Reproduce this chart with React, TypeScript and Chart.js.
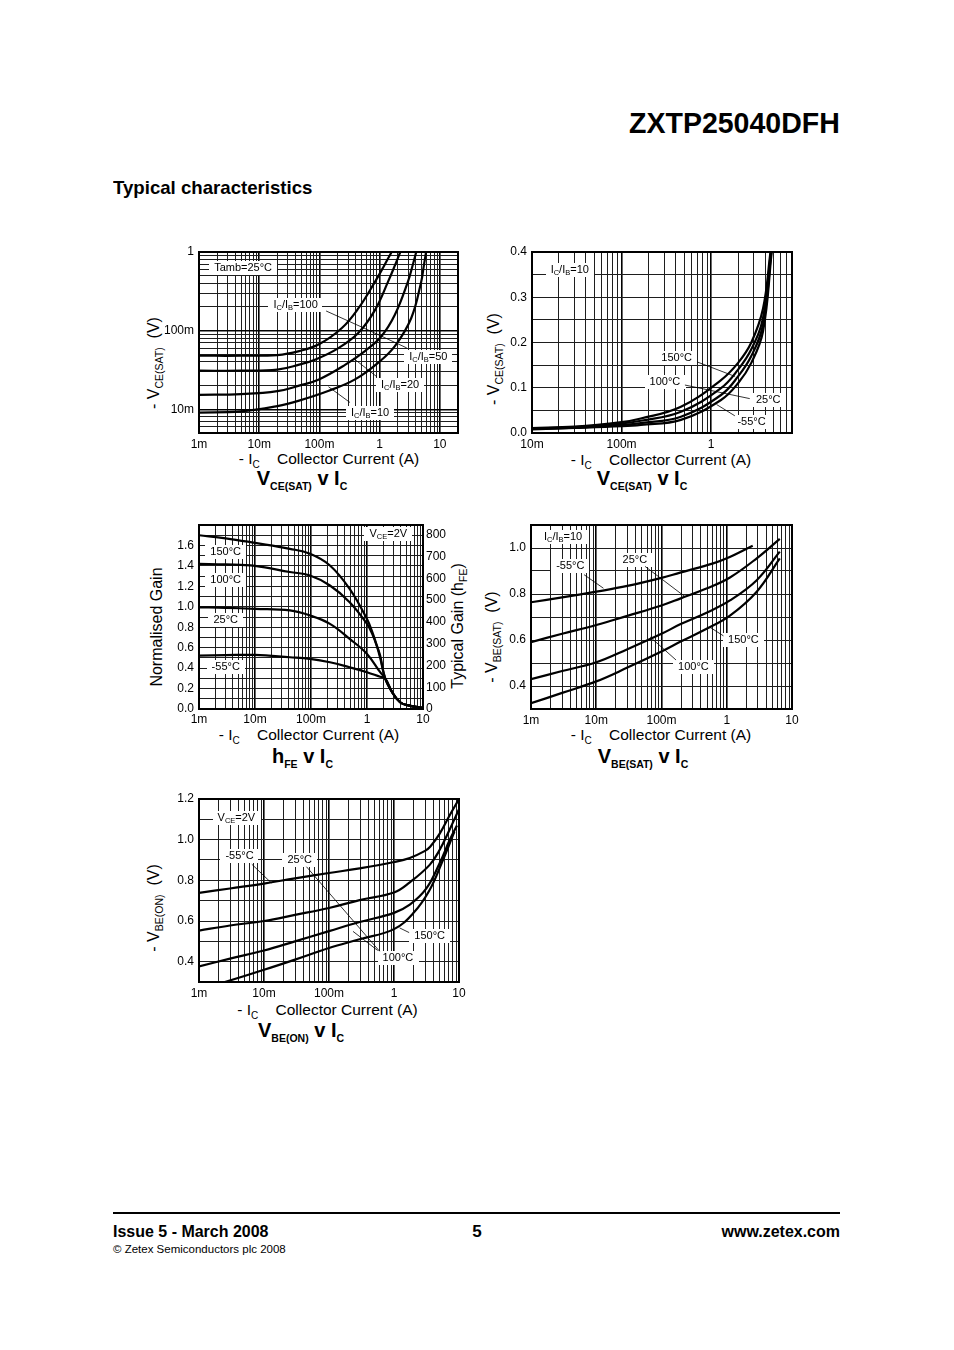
import React, { useEffect, useRef } from 'react'
import { Chart, registerables } from 'chart.js'

Chart.register(...registerables)

type Pt = [number, number]
type Part = [string, number?] // second item 1 = subscript

// ---------- data (x is -IC in A) ----------

// VCE(SAT) v IC, Tamb = 25°C, one curve per IC/IB ratio
const vceSatRatio100: Pt[] = [
  [0.001, 0.048], [0.005, 0.048], [0.02, 0.049], [0.046, 0.055], [0.098, 0.067],
  [0.236, 0.108], [0.445, 0.193], [0.84, 0.42], [1.2, 0.68], [1.58, 1.0],
]
const vceSatRatio50: Pt[] = [
  [0.001, 0.031], [0.005, 0.031], [0.02, 0.032], [0.046, 0.037], [0.086, 0.043],
  [0.21, 0.0605], [0.445, 0.094], [0.84, 0.184], [1.38, 0.42], [1.8, 0.68], [2.2, 1.0],
]
const vceSatRatio20: Pt[] = [
  [0.001, 0.0153], [0.005, 0.0156], [0.02, 0.017], [0.046, 0.02], [0.098, 0.024],
  [0.27, 0.037], [0.57, 0.055], [1.07, 0.085], [1.79, 0.159], [2.95, 0.42], [3.5, 0.66], [4.05, 1.0],
]
const vceSatRatio10: Pt[] = [
  [0.001, 0.0091], [0.005, 0.0094], [0.02, 0.011], [0.046, 0.0129], [0.143, 0.0172],
  [0.39, 0.024], [0.94, 0.039], [1.79, 0.0636], [3.35, 0.145], [4.9, 0.42], [5.4, 0.66], [5.9, 1.0],
]
const ratioLabels = ['100', '50', '20', '10']

// VCE(SAT) v IC, IC/IB = 10, one curve per temperature
const vceSat150: Pt[] = [
  [0.01, 0.011], [0.03, 0.014], [0.1, 0.024], [0.164, 0.032], [0.46, 0.058],
  [1.29, 0.117], [2.0, 0.155], [2.81, 0.2], [3.8, 0.275], [4.6, 0.4],
]
const vceSat100: Pt[] = [
  [0.01, 0.01], [0.03, 0.013], [0.1, 0.021], [0.164, 0.027], [0.46, 0.047],
  [1.29, 0.099], [2.0, 0.14], [2.81, 0.185], [3.8, 0.255], [4.65, 0.4],
]
const vceSat25: Pt[] = [
  [0.01, 0.009], [0.03, 0.012], [0.1, 0.018], [0.164, 0.022], [0.46, 0.036],
  [1.29, 0.084], [2.0, 0.125], [2.81, 0.17], [3.8, 0.24], [4.7, 0.4],
]
const vceSatM55: Pt[] = [
  [0.01, 0.008], [0.03, 0.011], [0.1, 0.015], [0.164, 0.018], [0.46, 0.029],
  [1.29, 0.073], [2.0, 0.11], [2.81, 0.155], [3.8, 0.225], [4.75, 0.4],
]

// hFE v IC, VCE = 2V (normalised gain)
const gain150: Pt[] = [
  [0.001, 1.7], [0.003, 1.67], [0.01, 1.625], [0.042, 1.567], [0.096, 1.518], [0.218, 1.404],
  [0.49, 1.175], [1.0, 0.88], [1.25, 0.75], [1.5, 0.62], [1.72, 0.52], [2.11, 0.3],
  [2.81, 0.165], [3.9, 0.066], [5.5, 0.035], [10, 0.01],
]
const gain100: Pt[] = [
  [0.001, 1.42], [0.003, 1.415], [0.01, 1.4], [0.042, 1.34], [0.096, 1.306], [0.218, 1.208],
  [0.49, 1.045], [1.0, 0.833], [1.25, 0.73], [1.5, 0.615], [1.72, 0.5], [2.11, 0.3],
  [2.81, 0.165], [3.9, 0.066], [5.5, 0.035], [10, 0.01],
]
const gain25: Pt[] = [
  [0.001, 0.995], [0.003, 0.99], [0.01, 0.98], [0.042, 0.964], [0.096, 0.915], [0.218, 0.833],
  [0.49, 0.686], [1.0, 0.539], [1.72, 0.36], [2.11, 0.3],
  [2.81, 0.165], [3.9, 0.066], [5.5, 0.035], [10, 0.01],
]
const gainM55: Pt[] = [
  [0.001, 0.523], [0.003, 0.527], [0.01, 0.529], [0.042, 0.506], [0.096, 0.49], [0.218, 0.457],
  [0.49, 0.408], [1.0, 0.36], [1.72, 0.315], [2.11, 0.3],
  [2.81, 0.165], [3.9, 0.066], [5.5, 0.035], [10, 0.01],
]

// VBE(SAT) v IC, IC/IB = 10
const vbeSatM55: Pt[] = [
  [0.001, 0.764], [0.003, 0.785], [0.01, 0.81], [0.03, 0.835], [0.1, 0.87],
  [0.193, 0.893], [0.62, 0.933], [1.0, 0.955], [2.5, 1.01],
]
const vbeSat25: Pt[] = [
  [0.001, 0.591], [0.003, 0.627], [0.01, 0.665], [0.03, 0.705], [0.1, 0.75],
  [0.193, 0.78], [0.5, 0.825], [1.12, 0.872], [2.88, 0.955], [6.5, 1.04],
]
const vbeSat100: Pt[] = [
  [0.001, 0.43], [0.003, 0.465], [0.01, 0.503], [0.03, 0.56], [0.1, 0.627],
  [0.193, 0.668], [0.5, 0.72], [1.12, 0.772], [2.88, 0.86], [6.5, 0.984],
]
const vbeSat150: Pt[] = [
  [0.001, 0.325], [0.003, 0.37], [0.01, 0.42], [0.03, 0.48], [0.1, 0.55],
  [0.193, 0.592], [0.5, 0.65], [1.12, 0.706], [2.88, 0.81], [6.5, 0.955],
]

// VBE(ON) v IC, VCE = 2V
const vbeOnM55: Pt[] = [
  [0.001, 0.738], [0.003, 0.76], [0.01, 0.784], [0.03, 0.81], [0.1, 0.836], [0.296, 0.859],
  [1.0, 0.89], [1.75, 0.91], [3.0, 0.945], [3.6, 0.965], [5.05, 1.03], [7.19, 1.12], [10, 1.2],
]
const vbeOn25: Pt[] = [
  [0.001, 0.553], [0.003, 0.578], [0.01, 0.6], [0.03, 0.63], [0.1, 0.664], [0.296, 0.703],
  [1.0, 0.74], [1.75, 0.79], [3.54, 0.876], [5.05, 0.95], [7.19, 1.05], [10, 1.15],
]
const vbeOn100: Pt[] = [
  [0.001, 0.377], [0.003, 0.415], [0.01, 0.455], [0.03, 0.5], [0.1, 0.55], [0.296, 0.595],
  [1.0, 0.64], [1.75, 0.68], [3.15, 0.76], [5.05, 0.885], [7.19, 0.998], [9.3, 1.07],
]
const vbeOn150: Pt[] = [
  [0.0025, 0.3], [0.01, 0.36], [0.03, 0.41], [0.1, 0.467], [0.296, 0.51],
  [1.0, 0.56], [2.0, 0.64], [3.5, 0.75], [5.5, 0.89], [8.5, 1.04],
]

const tempLabels = ['150°C', '100°C', '25°C', '-55°C']

// tick labels
const currentTicks = ['1m', '10m', '100m', '1', '10']
const currentTicksSat = ['10m', '100m', '1']
const vceLogTicks = ['10m', '100m', '1']
const vceLinTicks = ['0.0', '0.1', '0.2', '0.3', '0.4']
const gainNormTicks = ['0.0', '0.2', '0.4', '0.6', '0.8', '1.0', '1.2', '1.4', '1.6']
const gainTypTicks = ['0', '100', '200', '300', '400', '500', '600', '700', '800']
const vbeSatTicks = ['0.4', '0.6', '0.8', '1.0']
const vbeOnTicks = ['0.4', '0.6', '0.8', '1.0', '1.2']

// ---------- helpers ----------

const FONT = '"Liberation Sans", Arial, Helvetica, sans-serif'
const NOTE_SIZE = 11
const NOTE_SUB = 7.5

interface Axis { log: boolean; min: number; max: number; labels: string[]; step?: number; top?: number }
interface Note { at: Pt; parts: Part[] }
interface PlotSpec { x: Axis; y: Axis; y2?: Axis; series: Pt[][]; notes: Note[]; leaders: [Pt, Pt][] }
interface Frame { x: number; y: number; w: number; h: number; xPad: number }

const si = (s: string) => (s.endsWith('m') ? parseFloat(s) / 1000 : parseFloat(s))
const ratioParts = (r: string): Part[] => [['I'], ['C', 1], ['/I'], ['B', 1], ['=' + r]]
const tempParts = (t: string): Part[] => [[t]]

function labelFor(labels: string[]) {
  const values = labels.map(si)
  return (v: number) => {
    const i = values.findIndex(t => Math.abs(t - v) <= 1e-9 + Math.abs(t) * 1e-6)
    return i < 0 ? '' : labels[i]
  }
}

function logGrid(min: number, max: number) {
  const out: { value: number }[] = []
  for (let e = Math.floor(Math.log10(min)); e <= Math.ceil(Math.log10(max)); e++) {
    for (let m = 1; m < 10; m++) {
      const v = parseFloat((m * Math.pow(10, e)).toPrecision(6))
      if (v >= min * 0.9999 && v <= max * 1.0001) out.push({ value: v })
    }
  }
  return out
}

function linGrid(min: number, max: number, step: number) {
  const out: { value: number }[] = []
  const n = Math.round((max - min) / step)
  for (let i = 0; i <= n; i++) out.push({ value: parseFloat((min + i * step).toFixed(6)) })
  return out
}

function axisOptions(a: Axis, position: string, size: number, pad: number, onArea: boolean) {
  const label = labelFor(a.labels)
  const major = (c: any) => a.log && c.tick && label(c.tick.value) !== ''
  const horizontal = position === 'bottom'
  return {
    type: a.log ? 'logarithmic' : 'linear',
    position,
    min: a.min,
    max: a.max,
    afterBuildTicks: (s: any) => {
      s.ticks = a.log ? logGrid(a.min, a.max) : linGrid(a.min, a.top ?? a.max, a.step ?? 0.1)
    },
    afterFit: (s: any) => {
      if (horizontal) s.height = size
      else s.width = size
    },
    ticks: {
      autoSkip: false,
      maxRotation: 0,
      padding: pad,
      color: '#000',
      font: { family: FONT, size: 12 },
      callback: (v: any) => label(Number(v)),
    },
    grid: {
      display: true,
      drawOnChartArea: onArea,
      drawTicks: false,
      color: (c: any) => (major(c) ? '#000' : '#1e1e1e'),
      lineWidth: (c: any) => (major(c) ? 1.6 : 1),
    },
    border: { display: false },
  }
}

function partsWidth(ctx: CanvasRenderingContext2D, parts: Part[]) {
  let w = 0
  for (const [t, sub] of parts) {
    ctx.font = `${sub ? NOTE_SUB : NOTE_SIZE}px ${FONT}`
    w += ctx.measureText(t).width
  }
  return w
}

function drawParts(ctx: CanvasRenderingContext2D, parts: Part[], x: number, y: number) {
  ctx.fillStyle = '#000'
  ctx.textBaseline = 'middle'
  ctx.textAlign = 'left'
  for (const [t, sub] of parts) {
    ctx.font = `${sub ? NOTE_SUB : NOTE_SIZE}px ${FONT}`
    ctx.fillText(t, x, sub ? y + 3 : y)
    x += ctx.measureText(t).width
  }
}

function sheetPlugin(spec: PlotSpec) {
  return {
    id: 'sheet',
    beforeDatasetsDraw(chart: any) {
      const { ctx, scales } = chart
      ctx.save()
      for (const n of spec.notes) {
        const cx = scales.x.getPixelForValue(n.at[0])
        const cy = scales.y.getPixelForValue(n.at[1])
        const w = partsWidth(ctx, n.parts)
        ctx.fillStyle = '#fff'
        ctx.fillRect(Math.round(cx - w / 2 - 5), Math.round(cy - 7), Math.round(w + 10), 14)
        drawParts(ctx, n.parts, cx - w / 2, cy)
      }
      ctx.restore()
    },
    afterDatasetsDraw(chart: any) {
      const { ctx, scales } = chart
      ctx.save()
      ctx.strokeStyle = '#000'
      ctx.lineWidth = 0.8
      for (const [p, q] of spec.leaders) {
        ctx.beginPath()
        ctx.moveTo(scales.x.getPixelForValue(p[0]), scales.y.getPixelForValue(p[1]))
        ctx.lineTo(scales.x.getPixelForValue(q[0]), scales.y.getPixelForValue(q[1]))
        ctx.stroke()
      }
      ctx.restore()
    },
    afterDraw(chart: any) {
      const { ctx, chartArea: a } = chart
      ctx.save()
      ctx.strokeStyle = '#000'
      ctx.lineWidth = 2
      ctx.strokeRect(a.left, a.top, a.right - a.left, a.bottom - a.top)
      ctx.restore()
    },
  }
}

const LEFT = 48
const TOP = 16
const BOTTOM = 26

function Plot({ spec, frame }: { spec: PlotSpec; frame: Frame }) {
  const chartRef = useRef<HTMLCanvasElement | null>(null)
  const right = spec.y2 ? 40 : 16
  const width = LEFT + frame.w + right
  const height = TOP + frame.h + BOTTOM

  useEffect(() => {
    if (!chartRef.current) return
    const scales: any = {
      x: axisOptions(spec.x, 'bottom', BOTTOM, frame.xPad, true),
      y: axisOptions(spec.y, 'left', LEFT, 5, true),
    }
    if (spec.y2) scales.y2 = axisOptions(spec.y2, 'right', right, 3, false)

    const chart = new Chart(chartRef.current, {
      type: 'scatter',
      data: {
        datasets: spec.series.map(s => ({
          data: s.map(([x, y]) => ({ x, y })),
          showLine: true,
          borderColor: '#000',
          borderWidth: 2.2,
          pointRadius: 0,
          tension: 0.4,
          fill: false,
          yAxisID: 'y',
        })),
      },
      options: {
        responsive: false,
        animation: false,
        events: [],
        layout: { padding: { left: 0, top: TOP, right: spec.y2 ? 0 : right, bottom: 0 } },
        scales,
        plugins: { legend: { display: false }, tooltip: { enabled: false } },
      },
      plugins: [sheetPlugin(spec)],
    } as any)

    return () => {
      chart.destroy()
    }
  }, [])

  return (
    <canvas
      ref={chartRef}
      width={width}
      height={height}
      style={{ position: 'absolute', left: frame.x - LEFT, top: frame.y - TOP, width, height }}
    />
  )
}

const Txt: React.FC<{
  x: number
  y: number
  parts: Part[]
  size: number
  sub: number
  drop: number
  bold?: boolean
  rotate?: boolean
}> = ({ x, y, parts, size, sub, drop, bold, rotate }) => (
  <div
    style={{
      position: 'absolute',
      left: x,
      top: y,
      transform: `translate(-50%, -50%)${rotate ? ' rotate(-90deg)' : ''}`,
      fontFamily: FONT,
      fontSize: size,
      fontWeight: bold ? 700 : 400,
      lineHeight: 1,
      whiteSpace: 'pre',
      color: '#000',
    }}
  >
    {parts.map(([t, s], i) =>
      s ? (
        <span key={i} style={{ fontSize: sub, position: 'relative', top: drop }}>{t}</span>
      ) : (
        <span key={i}>{t}</span>
      )
    )}
  </div>
)

// ---------- chart specs ----------

const satSpec: PlotSpec = {
  x: { log: true, min: 0.001, max: 20, labels: currentTicks },
  y: { log: true, min: 0.005, max: 1, labels: vceLogTicks },
  series: [vceSatRatio100, vceSatRatio50, vceSatRatio20, vceSatRatio10],
  notes: [
    { at: [0.0054, 0.62], parts: [['Tamb=25°C']] },
    { at: [0.0403, 0.212], parts: ratioParts(ratioLabels[0]) },
    { at: [6.44, 0.0468], parts: ratioParts(ratioLabels[1]) },
    { at: [2.18, 0.0204], parts: ratioParts(ratioLabels[2]) },
    { at: [0.692, 0.0089], parts: ratioParts(ratioLabels[3]) },
  ],
  leaders: [
    [[0.129, 0.178], [0.618, 0.1035]],
    [[2.82, 0.0603], [0.618, 0.1035]],
    [[0.895, 0.026], [0.366, 0.0446]],
    [[0.322, 0.0122], [0.141, 0.0194]],
  ],
}

const satTempSpec: PlotSpec = {
  x: { log: true, min: 0.01, max: 8, labels: currentTicksSat },
  y: { log: false, min: 0, max: 0.4, step: 0.05, labels: vceLinTicks },
  series: [vceSat150, vceSat100, vceSat25, vceSatM55],
  notes: [
    { at: [0.0264, 0.36], parts: ratioParts('10') },
    { at: [0.412, 0.165], parts: tempParts(tempLabels[0]) },
    { at: [0.305, 0.113], parts: tempParts(tempLabels[1]) },
    { at: [4.34, 0.073], parts: tempParts(tempLabels[2]) },
    { at: [2.83, 0.025], parts: tempParts(tempLabels[3]) },
  ],
  leaders: [
    [[0.7, 0.157], [1.85, 0.125]],
    [[0.51, 0.106], [2.7, 0.076]],
    [[1.84, 0.038], [1.15, 0.063]],
  ],
}

const gainSpec: PlotSpec = {
  x: { log: true, min: 0.001, max: 10, labels: currentTicks },
  y: { log: false, min: 0, max: 1.8, step: 0.1, labels: gainNormTicks },
  y2: { log: false, min: 0, max: 845, step: 100, top: 800, labels: gainTypTicks },
  series: [gain150, gain100, gain25, gainM55],
  notes: [
    { at: [2.4, 1.71], parts: [['V'], ['CE', 1], ['=2V']] },
    { at: [0.003, 1.54], parts: tempParts(tempLabels[0]) },
    { at: [0.003, 1.264], parts: tempParts(tempLabels[1]) },
    { at: [0.003, 0.872], parts: tempParts(tempLabels[2]) },
    { at: [0.003, 0.415], parts: tempParts(tempLabels[3]) },
  ],
  leaders: [],
}

const beSatSpec: PlotSpec = {
  x: { log: true, min: 0.001, max: 10, labels: currentTicks },
  y: { log: false, min: 0.3, max: 1.1, step: 0.1, labels: vbeSatTicks },
  series: [vbeSatM55, vbeSat25, vbeSat100, vbeSat150],
  notes: [
    { at: [0.0031, 1.05], parts: ratioParts('10') },
    { at: [0.004, 0.92], parts: tempParts(tempLabels[3]) },
    { at: [0.039, 0.949], parts: tempParts(tempLabels[2]) },
    { at: [1.8, 0.602], parts: tempParts(tempLabels[0]) },
    { at: [0.308, 0.481], parts: tempParts(tempLabels[1]) },
  ],
  leaders: [
    [[0.0065, 0.884], [0.0129, 0.825]],
    [[0.056, 0.92], [0.23, 0.788]],
    [[0.89, 0.618], [0.555, 0.655]],
    [[0.167, 0.513], [0.067, 0.613]],
  ],
}

const beOnSpec: PlotSpec = {
  x: { log: true, min: 0.001, max: 10, labels: currentTicks },
  y: { log: false, min: 0.3, max: 1.2, step: 0.1, labels: vbeOnTicks },
  series: [vbeOnM55, vbeOn25, vbeOn100, vbeOn150],
  notes: [
    { at: [0.00376, 1.107], parts: [['V'], ['CE', 1], ['=2V']] },
    { at: [0.0042, 0.918], parts: tempParts(tempLabels[3]) },
    { at: [0.0354, 0.902], parts: tempParts(tempLabels[2]) },
    { at: [3.54, 0.525], parts: tempParts(tempLabels[0]) },
    { at: [1.15, 0.419], parts: tempParts(tempLabels[1]) },
  ],
  leaders: [
    [[0.0065, 0.879], [0.013, 0.787]],
    [[0.045, 0.867], [0.6, 0.451]],
    [[1.71, 0.543], [1.22, 0.566]],
    [[0.561, 0.455], [0.234, 0.549]],
  ],
}

const frames: Record<string, Frame> = {
  sat: { x: 199, y: 252, w: 259, h: 181, xPad: 4 },
  satTemp: { x: 532, y: 252, w: 260, h: 181, xPad: 4 },
  gain: { x: 199, y: 525, w: 224, h: 184, xPad: 3 },
  beSat: { x: 531, y: 525, w: 261, h: 184, xPad: 4 },
  beOn: { x: 199, y: 799, w: 260, h: 183, xPad: 4 },
}

const icTitle: Part[] = [['- I'], ['C', 1], ['    Collector Current (A)']]

const App: React.FC = () => {
  useEffect(() => {
    document.body.style.margin = '0'
  }, [])

  const axisT = { size: 15.5, sub: 10, drop: 4 }
  const yT = { size: 16, sub: 10.5, drop: 4, rotate: true }
  const headT = { size: 20, sub: 10.5, drop: 5, bold: true }

  return (
    <div style={{ position: 'absolute', left: 0, top: 0, width: 954, height: 1350, background: '#fff', overflow: 'hidden' }}>
      <div style={{ position: 'absolute', right: 114, top: 107.5, fontFamily: FONT, fontWeight: 700, fontSize: 30, lineHeight: 1, transform: 'scaleX(0.95)', transformOrigin: 'right center', whiteSpace: 'nowrap' }}>
        ZXTP25040DFH
      </div>
      <div style={{ position: 'absolute', left: 113, top: 178, fontFamily: FONT, fontWeight: 700, fontSize: 19, lineHeight: 1, transform: 'scaleX(0.98)', transformOrigin: 'left center', whiteSpace: 'nowrap' }}>
        Typical characteristics
      </div>

      {/* chart 1 */}
      <Txt x={154} y={363} parts={[['- V'], ['CE(SAT)', 1], ['  (V)']]} {...yT} />
      <Txt x={329} y={459} parts={icTitle} {...axisT} />
      <Txt x={302} y={478} parts={[['V'], ['CE(SAT)', 1], [' v I'], ['C', 1]]} {...headT} />
      <Plot spec={satSpec} frame={frames.sat} />

      {/* chart 2 */}
      <Txt x={493.5} y={359} parts={[['- V'], ['CE(SAT)', 1], ['  (V)']]} {...yT} />
      <Txt x={661} y={460} parts={icTitle} {...axisT} />
      <Txt x={642} y={478} parts={[['V'], ['CE(SAT)', 1], [' v I'], ['C', 1]]} {...headT} />
      <Plot spec={satTempSpec} frame={frames.satTemp} />

      {/* chart 3 */}
      <Txt x={157} y={627} parts={[['Normalised Gain']]} {...yT} />
      <Txt x={458} y={625.5} parts={[['Typical Gain (h'], ['FE', 1], [')']]} {...yT} />
      <Txt x={309} y={735} parts={icTitle} {...axisT} />
      <Txt x={302.5} y={756} parts={[['h'], ['FE', 1], [' v I'], ['C', 1]]} {...headT} />
      <Plot spec={gainSpec} frame={frames.gain} />

      {/* chart 4 */}
      <Txt x={492} y={637} parts={[['- V'], ['BE(SAT)', 1], ['  (V)']]} {...yT} />
      <Txt x={661} y={735} parts={icTitle} {...axisT} />
      <Txt x={643} y={756} parts={[['V'], ['BE(SAT)', 1], [' v I'], ['C', 1]]} {...headT} />
      <Plot spec={beSatSpec} frame={frames.beSat} />

      {/* chart 5 */}
      <Txt x={153.5} y={908} parts={[['- V'], ['BE(ON)', 1], ['  (V)']]} {...yT} />
      <Txt x={327.5} y={1010} parts={icTitle} {...axisT} />
      <Txt x={301} y={1029.5} parts={[['V'], ['BE(ON)', 1], [' v I'], ['C', 1]]} {...headT} />
      <Plot spec={beOnSpec} frame={frames.beOn} />

      {/* footer */}
      <div style={{ position: 'absolute', left: 113, top: 1212, width: 727, height: 2, background: '#000' }} />
      <div style={{ position: 'absolute', left: 113, top: 1223, fontFamily: FONT, fontWeight: 700, fontSize: 17, lineHeight: 1, transform: 'scaleX(0.94)', transformOrigin: 'left center', whiteSpace: 'nowrap' }}>
        Issue 5 - March 2008
      </div>
      <div style={{ position: 'absolute', left: 477, top: 1223, fontFamily: FONT, fontWeight: 700, fontSize: 17, lineHeight: 1, transform: 'translateX(-50%)' }}>
        5
      </div>
      <div style={{ position: 'absolute', right: 114, top: 1223, fontFamily: FONT, fontWeight: 700, fontSize: 17, lineHeight: 1, transform: 'scaleX(0.94)', transformOrigin: 'right center', whiteSpace: 'nowrap' }}>
        www.zetex.com
      </div>
      <div style={{ position: 'absolute', left: 113, top: 1243.5, fontFamily: FONT, fontSize: 11.5, lineHeight: 1, whiteSpace: 'nowrap' }}>
        © Zetex Semiconductors plc 2008
      </div>
    </div>
  )
}

export default App
